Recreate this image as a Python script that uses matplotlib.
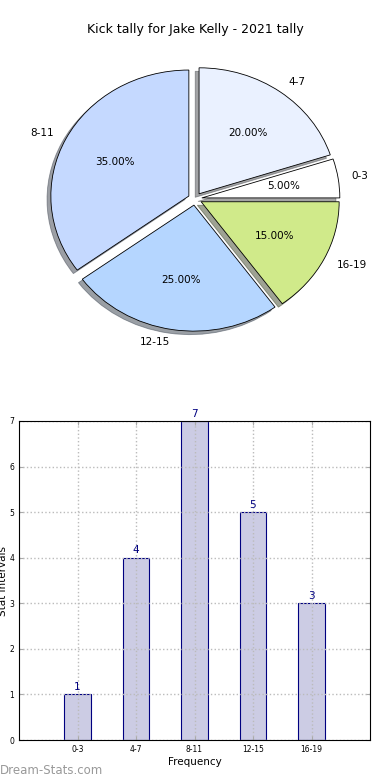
import matplotlib
matplotlib.use("Agg")
import matplotlib.pyplot as plt

# data
intervals = ["0-3", "4-7", "8-11", "12-15", "16-19"]
counts = [1, 4, 7, 5, 3]
pie_colors = ["#ffffff", "#eaf1ff", "#c5d9ff", "#b5d6ff", "#d0ea8a"]

fig = plt.figure(figsize=(3.9, 7.8), dpi=100)

# --- pie (top half), slightly squashed like the original ---
rx_px, ry_px = 138.0, 126.0
pie_h = 360 / 780
ax1 = fig.add_axes([0, 0.745 - pie_h / 2, 1, pie_h])
wedges, texts, autotexts = ax1.pie(
    counts, labels=intervals, colors=pie_colors, autopct="%1.2f%%",
    explode=[0.05] * len(counts), shadow=True, startangle=0,
    wedgeprops={"edgecolor": "black", "linewidth": 0.6},
    textprops={"fontsize": 7.5},
)
ax1.set_aspect("auto")
ax1.set_xlim(-195 / rx_px, 195 / rx_px)
ax1.set_ylim(-180 / ry_px, 180 / ry_px)
ax1.axis("off")

fig.text(0.5, 1 - 30 / 780, "Kick tally for Jake Kelly - 2021 tally",
         ha="center", va="center", fontsize=9)

# --- bars (bottom half) ---
ax2 = fig.add_axes([19 / 390, 40 / 780, 351 / 390, 319 / 780])
x = list(range(len(intervals)))
ax2.bar(x, counts, width=0.45, color="#ccccE4", edgecolor="#000080", linewidth=0.8)
for xi, c in zip(x, counts):
    ax2.text(xi, c + 0.05, str(c), ha="center", va="bottom", color="#000080", fontsize=7.5)

ax2.set_xlim(-1, 5)
ax2.set_ylim(0, 7)
ax2.set_xticks(x)
ax2.set_xticklabels(intervals, fontsize=5.5)
ax2.set_yticks(range(8))
ax2.tick_params(axis="y", labelsize=5.5)
ax2.tick_params(direction="in", length=3, top=True, right=True, color="#aaaaaa")
ax2.grid(True, linestyle=":", color="#bbbbbb", linewidth=1)
ax2.set_axisbelow(False)
for sp in ax2.spines.values():
    sp.set_zorder(5)
ax2.set_xlabel("Frequency", fontsize=7.5, labelpad=2)
ax2.set_ylabel("Stat Intervals", fontsize=7.5)
ax2.yaxis.set_label_coords(-10.5 / 351, 0.5)

fig.text(0.0, 1 - 771 / 780, "Dream-Stats.com", ha="left", va="center",
         fontsize=8.5, color="#999999")

fig.savefig("out.png", dpi=100)
